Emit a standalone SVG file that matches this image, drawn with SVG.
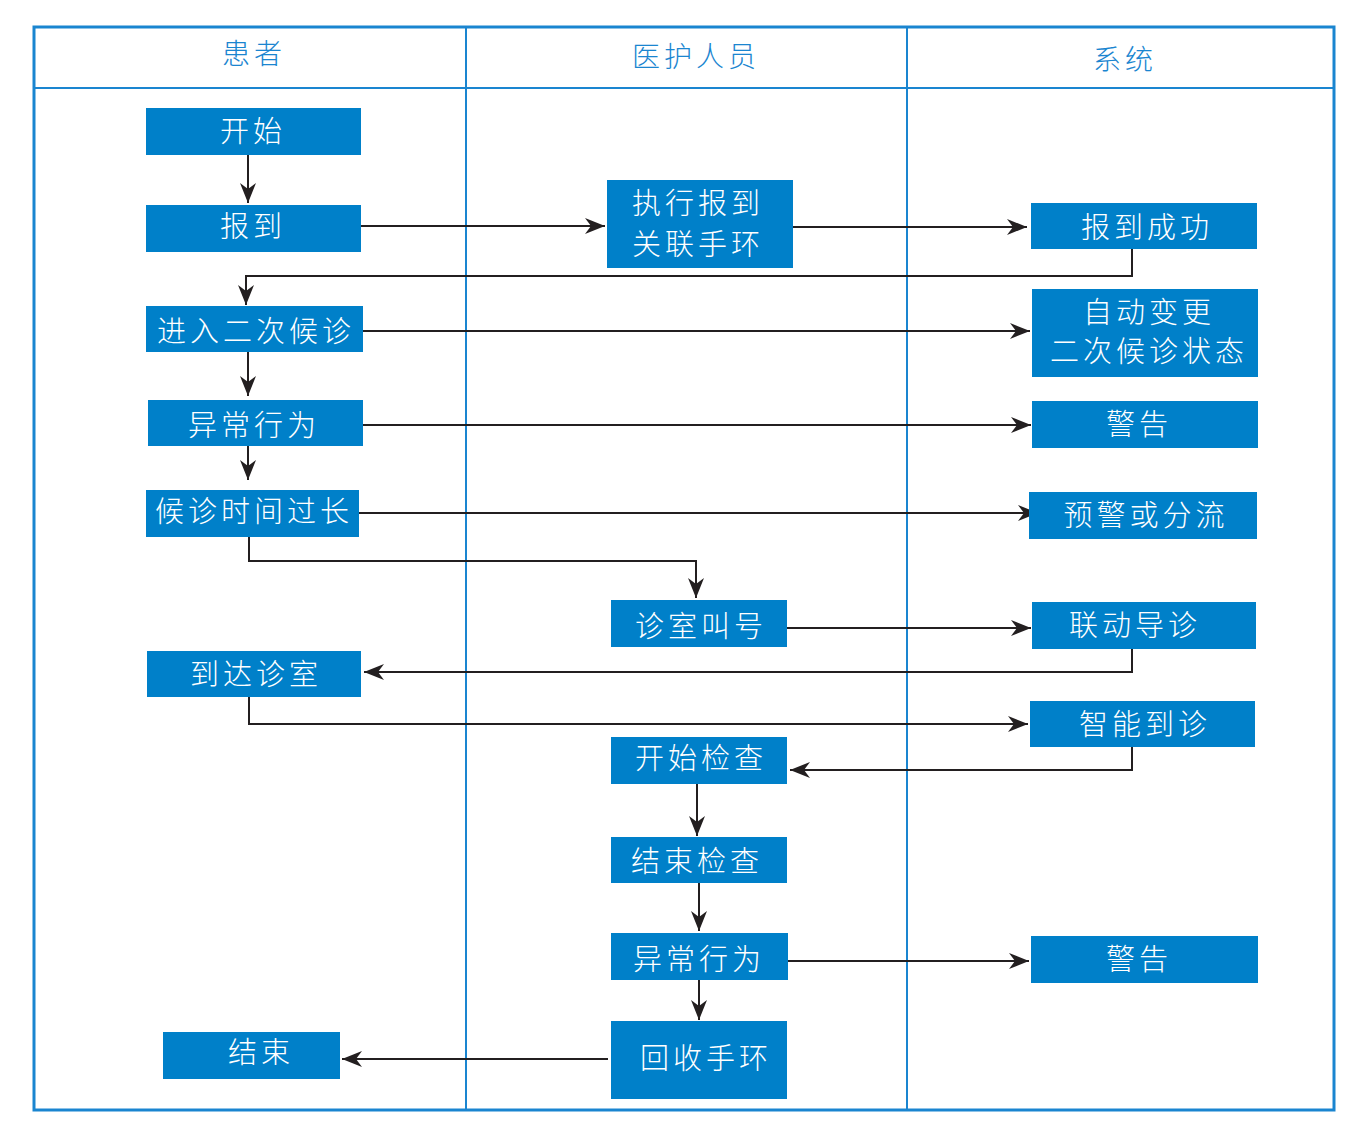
<svg xmlns="http://www.w3.org/2000/svg" width="1357" height="1124" viewBox="0 0 1357 1124">
<style>
.box{fill:#0080c9}
.t{font-family:"Noto Sans CJK SC","Noto Sans",sans-serif;font-weight:300;font-size:29px;fill:#ffffff;text-anchor:middle;letter-spacing:4px}
.h{font-family:"Noto Sans CJK SC","Noto Sans",sans-serif;font-weight:300;font-size:28px;fill:#1a85d0;text-anchor:middle;letter-spacing:4px}
.c{fill:none;stroke:#231f20;stroke-width:2}
.lane{fill:none;stroke:#1a85d0;stroke-width:2}
</style>
<defs>
<marker id="a" markerUnits="userSpaceOnUse" markerWidth="22" markerHeight="16" refX="20" refY="8" orient="auto">
<path d="M0,0 L20,8 L0,16 L6,8 Z" fill="#231f20"/>
</marker>
</defs>
<rect width="1357" height="1124" fill="#ffffff"/>
<g id="lanes">
<rect x="34" y="27" width="1300" height="1083" fill="none" stroke="#1a85d0" stroke-width="3"/>
<line class="lane" x1="34" y1="88" x2="1334" y2="88"/>
<line class="lane" x1="466" y1="27" x2="466" y2="1110"/>
<line class="lane" x1="907" y1="27" x2="907" y2="1110"/>
<text class="h" x="254" y="64">患者</text>
<text class="h" x="696" y="67">医护人员</text>
<text class="h" x="1125" y="70">系统</text>
</g>
<g id="connectors">
<path class="c" marker-end="url(#a)" d="M248,155 V203"/>
<path class="c" marker-end="url(#a)" d="M361,226 H605"/>
<path class="c" marker-end="url(#a)" d="M793,227 H1027"/>
<path class="c" marker-end="url(#a)" d="M1132,249 V276 H246 V305"/>
<path class="c" marker-end="url(#a)" d="M363,331 H1030"/>
<path class="c" marker-end="url(#a)" d="M248,352 V396"/>
<path class="c" marker-end="url(#a)" d="M363,425 H1031"/>
<path class="c" marker-end="url(#a)" d="M248,446 V480"/>
<path class="c" marker-end="url(#a)" d="M359,513 H1038"/>
<path class="c" marker-end="url(#a)" d="M249,537 V561 H696 V598"/>
<path class="c" marker-end="url(#a)" d="M787,628 H1031"/>
<path class="c" marker-end="url(#a)" d="M1132,649 V672 H364"/>
<path class="c" marker-end="url(#a)" d="M249,697 V724 H1028"/>
<path class="c" marker-end="url(#a)" d="M1132,747 V770 H790"/>
<path class="c" marker-end="url(#a)" d="M697,784 V836"/>
<path class="c" marker-end="url(#a)" d="M699,883 V931"/>
<path class="c" marker-end="url(#a)" d="M788,961 H1029"/>
<path class="c" marker-end="url(#a)" d="M699,980 V1020"/>
<path class="c" marker-end="url(#a)" d="M608,1059 H342"/>
</g>
<g id="n1"><rect class="box" x="146" y="108" width="215" height="47"/><text class="t" x="253" y="142">开始</text></g>
<g id="n2"><rect class="box" x="146" y="205" width="215" height="47"/><text class="t" x="253" y="237">报到</text></g>
<g id="n3"><rect class="box" x="146" y="306" width="217" height="46"/><text class="t" x="256" y="342">进入二次候诊</text></g>
<g id="n4"><rect class="box" x="148" y="400" width="215" height="46"/><text class="t" x="254" y="436">异常行为</text></g>
<g id="n5"><rect class="box" x="146" y="490" width="213" height="47"/><text class="t" x="254" y="522">候诊时间过长</text></g>
<g id="n6"><rect class="box" x="147" y="651" width="214" height="46"/><text class="t" x="256" y="685">到达诊室</text></g>
<g id="n7"><rect class="box" x="163" y="1032" width="177" height="47"/><text class="t" x="261" y="1063">结束</text></g>
<g id="n8"><rect class="box" x="607" y="180" width="186" height="88"/><text class="t" x="698" y="214">执行报到</text><text class="t" x="698" y="255">关联手环</text></g>
<g id="n9"><rect class="box" x="611" y="600" width="176" height="47"/><text class="t" x="701" y="637">诊室叫号</text></g>
<g id="n10"><rect class="box" x="611" y="737" width="176" height="47"/><text class="t" x="701" y="769">开始检查</text></g>
<g id="n11"><rect class="box" x="611" y="837" width="176" height="46"/><text class="t" x="697" y="872">结束检查</text></g>
<g id="n12"><rect class="box" x="611" y="933" width="177" height="47"/><text class="t" x="699" y="970">异常行为</text></g>
<g id="n13"><rect class="box" x="611" y="1021" width="176" height="78"/><text class="t" x="706" y="1069">回收手环</text></g>
<g id="n14"><rect class="box" x="1031" y="203" width="226" height="46"/><text class="t" x="1147" y="238">报到成功</text></g>
<g id="n15"><rect class="box" x="1032" y="289" width="226" height="88"/><text class="t" x="1149" y="323">自动变更</text><text class="t" x="1149" y="362">二次候诊状态</text></g>
<g id="n16"><rect class="box" x="1032" y="401" width="226" height="47"/><text class="t" x="1139" y="435">警告</text></g>
<g id="n17"><rect class="box" x="1029" y="492" width="228" height="47"/><text class="t" x="1146" y="526">预警或分流</text></g>
<g id="n18"><rect class="box" x="1032" y="602" width="224" height="47"/><text class="t" x="1135" y="636">联动导诊</text></g>
<g id="n19"><rect class="box" x="1030" y="701" width="225" height="46"/><text class="t" x="1145" y="735">智能到诊</text></g>
<g id="n20"><rect class="box" x="1031" y="936" width="227" height="47"/><text class="t" x="1139" y="970">警告</text></g>
</svg>
